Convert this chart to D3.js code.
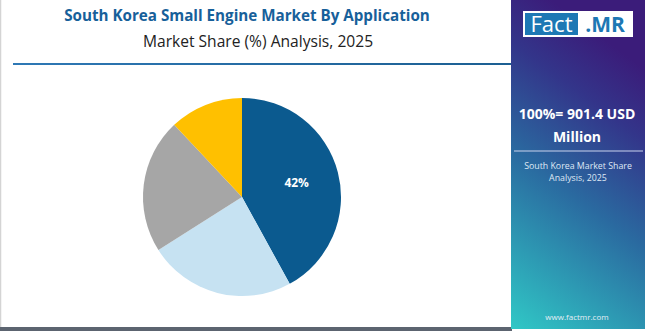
<!DOCTYPE html>
<html>
<head>
<meta charset="utf-8">
<script src="https://cdn.jsdelivr.net/npm/d3@7"></script>
<style>
  body { margin: 0; background: #fff; }
  text { font-family: "Open Sans", "DejaVu Sans", sans-serif; }
</style>
</head>
<body>
<script>
// data
const categories = ['Lawn & Garden', 'Construction', 'Industrial', 'Others'];
const shares = [42, 24, 22, 12];
const colors = ['#0b5a8f', '#c6e2f2', '#a6a6a6', '#ffc000'];
const shownLabels = ['42%', '', '', ''];

const w = 650, h = 331;
const cx = 242, cy = 197, r = 99;

const svg = d3.select('body').append('svg')
  .attr('width', w)
  .attr('height', h);

// side panel gradient
const defs = svg.append('defs');
const grad = defs.append('linearGradient')
  .attr('id', 'side')
  .attr('x1', 0).attr('y1', 1).attr('x2', 0.3).attr('y2', 0);
grad.append('stop').attr('offset', '0%').attr('stop-color', '#30c8c6');
grad.append('stop').attr('offset', '50%').attr('stop-color', '#2a6aa0');
grad.append('stop').attr('offset', '80%').attr('stop-color', '#33358a');
grad.append('stop').attr('offset', '100%').attr('stop-color', '#3b1c7a');

const lineGrad = defs.append('linearGradient').attr('id', 'rule');
lineGrad.append('stop').attr('offset', '0%').attr('stop-color', '#2e78b5');
lineGrad.append('stop').attr('offset', '100%').attr('stop-color', '#1c5f92');

// frame
svg.append('line').attr('x1', 0.5).attr('x2', 0.5).attr('y1', 0).attr('y2', 328)
  .attr('stroke', '#d4d4d4').attr('stroke-width', 1.5);
svg.append('rect').attr('x', 0).attr('y', 327).attr('width', 512).attr('height', 4)
  .attr('fill', '#5c6470');

// titles
svg.append('text')
  .attr('x', 247).attr('y', 21)
  .attr('text-anchor', 'middle')
  .attr('font-size', 15.2).attr('font-weight', 700)
  .attr('fill', '#17609a')
  .text('South Korea Small Engine Market By Application');
svg.append('text')
  .attr('x', 258).attr('y', 47)
  .attr('text-anchor', 'middle')
  .attr('font-size', 15.6)
  .attr('fill', '#222')
  .text('Market Share (%) Analysis, 2025');

svg.append('rect').attr('x', 13).attr('y', 63).attr('width', 498).attr('height', 2)
  .attr('fill', 'url(#rule)');

// pie
const pie = d3.pie().sort(null).value(d => d)(shares);
const arc = d3.arc().innerRadius(0).outerRadius(r);
const g = svg.append('g').attr('transform', `translate(${cx},${cy})`);
g.selectAll('path')
  .data(pie)
  .enter()
  .append('path')
  .attr('d', arc)
  .attr('fill', (d, i) => colors[i]);

const labelArc = d3.arc().innerRadius(r * 0.57).outerRadius(r * 0.57);
g.selectAll('text.lab')
  .data(pie)
  .enter()
  .append('text')
  .attr('class', 'lab')
  .attr('transform', d => `translate(${labelArc.centroid(d)})`)
  .attr('dy', '0.35em')
  .attr('text-anchor', 'middle')
  .attr('font-size', 12).attr('font-weight', 700)
  .attr('fill', '#fff')
  .text((d, i) => shownLabels[i]);

// side panel
svg.append('rect').attr('x', 511).attr('y', 0).attr('width', 134).attr('height', 329)
  .attr('fill', 'url(#side)');

// logo
svg.append('rect').attr('x', 523).attr('y', 11).attr('width', 110).attr('height', 26).attr('fill', '#fff');
svg.append('rect').attr('x', 525).attr('y', 13).attr('width', 53).attr('height', 22).attr('fill', '#1d78b4');
svg.append('text').attr('x', 551.5).attr('y', 32).attr('text-anchor', 'middle')
  .attr('font-size', 22).attr('fill', '#fff').text('Fact');
svg.append('text').attr('x', 605).attr('y', 32).attr('text-anchor', 'middle')
  .attr('font-size', 21).attr('font-weight', 700).attr('fill', '#1d78b4').text('.MR');

const side = svg.append('g').attr('fill', '#fff').attr('text-anchor', 'middle');
side.append('text').attr('x', 577).attr('y', 119).attr('font-size', 14).attr('font-weight', 700)
  .text('100%= 901.4 USD');
side.append('text').attr('x', 577).attr('y', 142).attr('font-size', 14).attr('font-weight', 700)
  .text('Million');
svg.append('line').attr('x1', 514).attr('x2', 643).attr('y1', 151).attr('y2', 151)
  .attr('stroke', '#c9d4ee').attr('stroke-width', 1.2);
side.append('text').attr('x', 578).attr('y', 169).attr('font-size', 8.8).attr('fill', '#dfe8f5')
  .text('South Korea Market Share');
side.append('text').attr('x', 578).attr('y', 181).attr('font-size', 8.8).attr('fill', '#dfe8f5')
  .text('Analysis, 2025');
side.append('text').attr('x', 577).attr('y', 320).attr('font-size', 8).attr('fill', '#e4eef5')
  .text('www.factmr.com');
</script>
</body>
</html>
